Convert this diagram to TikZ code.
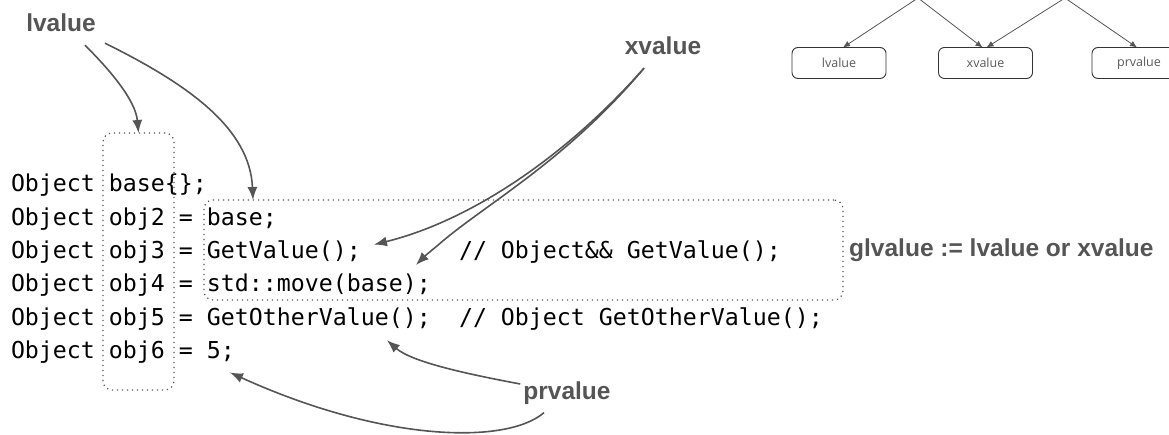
\documentclass[tikz,border=0pt]{standalone}
\usepackage{fontspec}
\setmainfont{Liberation Sans}
\newfontfamily\codefont{DejaVu Sans Mono}
\newfontfamily\treefont{Open Sans}
\usetikzlibrary{arrows.meta}
\definecolor{lab}{HTML}{555555}
\begin{document}
\begin{tikzpicture}[x=1pt,y=-1pt,
  code/.style={anchor=base west,inner sep=0,outer sep=0,font=\codefont\fontsize{23.25}{23.25}\selectfont},
  lbl/.style={font=\bfseries\fontsize{24.5}{24.5}\selectfont,text=lab,inner sep=0},
  dotbox/.style={draw=lab,line width=1.2pt,dash pattern=on 1.2pt off 3.8pt,rounded corners=9pt,inner sep=0,outer sep=0,anchor=north west},
  callout/.style={draw=lab,line width=1.6pt,-{Latex[length=13pt,width=10pt]}},
  treebox/.style={draw=black!80,line width=0.9pt,rounded corners=6pt,minimum width=94pt,minimum height=31pt,inner sep=0,outer sep=0,font=\treefont\fontsize{12.5}{12.5}\selectfont,text=black!65},
  treeedge/.style={draw=lab,line width=0.8pt,-{Latex[length=7pt,width=6pt]}}]
\useasboundingbox (0,0) rectangle (1169,435);

% code
\node[code] (c1) at (11,192) {Object base\{\};};
\node[code] (c2) at (11,225.3) {Object obj2 = base;};
\node[code] (c3) at (11,258.6) {Object obj3 = GetValue();};
\node[code] (m3) at (459,258.6) {// Object\&\& GetValue();};
\node[code] (c4) at (11,292) {Object obj4 = std::move(base);};
\node[code] (c5) at (11,325.2) {Object obj5 = GetOtherValue();};
\node[code] (m5) at (459,325.2) {// Object GetOtherValue();};
\node[code] (c6) at (11,358.5) {Object obj6 = 5;};

% dotted boxes
\node[dotbox,minimum width=71pt,minimum height=257pt] (lbox) at (103,133) {};
\node[dotbox,minimum width=639pt,minimum height=100pt] (gbox) at (204,200) {};

% labels
\node[lbl] (lv) at (61,23) {lvalue};
\node[lbl] (xv) at (663,46) {xvalue};
\node[lbl] (pv) at (567,393) {prvalue};
\node[lbl,anchor=west] (gl) at (849,250) {glvalue := lvalue or xvalue};

% callout arrows
\draw[callout] ([shift={(24,13)}]lv.south) .. controls +(25,25) and +(-3,-33) .. (lbox.north);
\draw[callout] ([shift={(44,11)}]lv.south) .. controls +(85,42) and +(-3,-71) .. ([xshift=49pt]gbox.north west);
\draw[callout] ([shift={(-19,13)}]xv.south) .. controls +(-84,95) and +(90,-22) .. ([shift={(13,-14)}]c3.base east);
\draw[callout] ([shift={(-19,13)}]xv.south) .. controls +(-80,95) and +(45,-40) .. (437,246) .. controls +(-10,8) and +(8,-8) .. ([shift={(-15,-27)}]c4.base east);
\draw[callout] ([shift={(-3,-9)}]pv.west) .. controls +(-53,-10) and +(25,22) .. ([shift={(-44,15)}]c5.base east);
\draw[callout] ([shift={(-23,8)}]pv.south) .. controls +(-37,32) and +(154,70) .. ([shift={(-5,14)}]c6.base east);

% tree
\coordinate (glvTop) at (918,-2);
\coordinate (rvTop) at (1065,-2);
\node[treebox] (tl) at (839,63) {lvalue};
\node[treebox] (tx) at (985.5,63) {xvalue};
\node[treebox] (tp) at (1139,63) {prvalue};
\draw[treeedge] (glvTop) -- ([xshift=4pt]tl.north);
\draw[treeedge] (glvTop) -- ([xshift=-3pt]tx.north);
\draw[treeedge] (rvTop) -- ([xshift=1pt]tx.north);
\draw[treeedge] (rvTop) -- ([xshift=-2pt]tp.north);
\end{tikzpicture}
\end{document}
